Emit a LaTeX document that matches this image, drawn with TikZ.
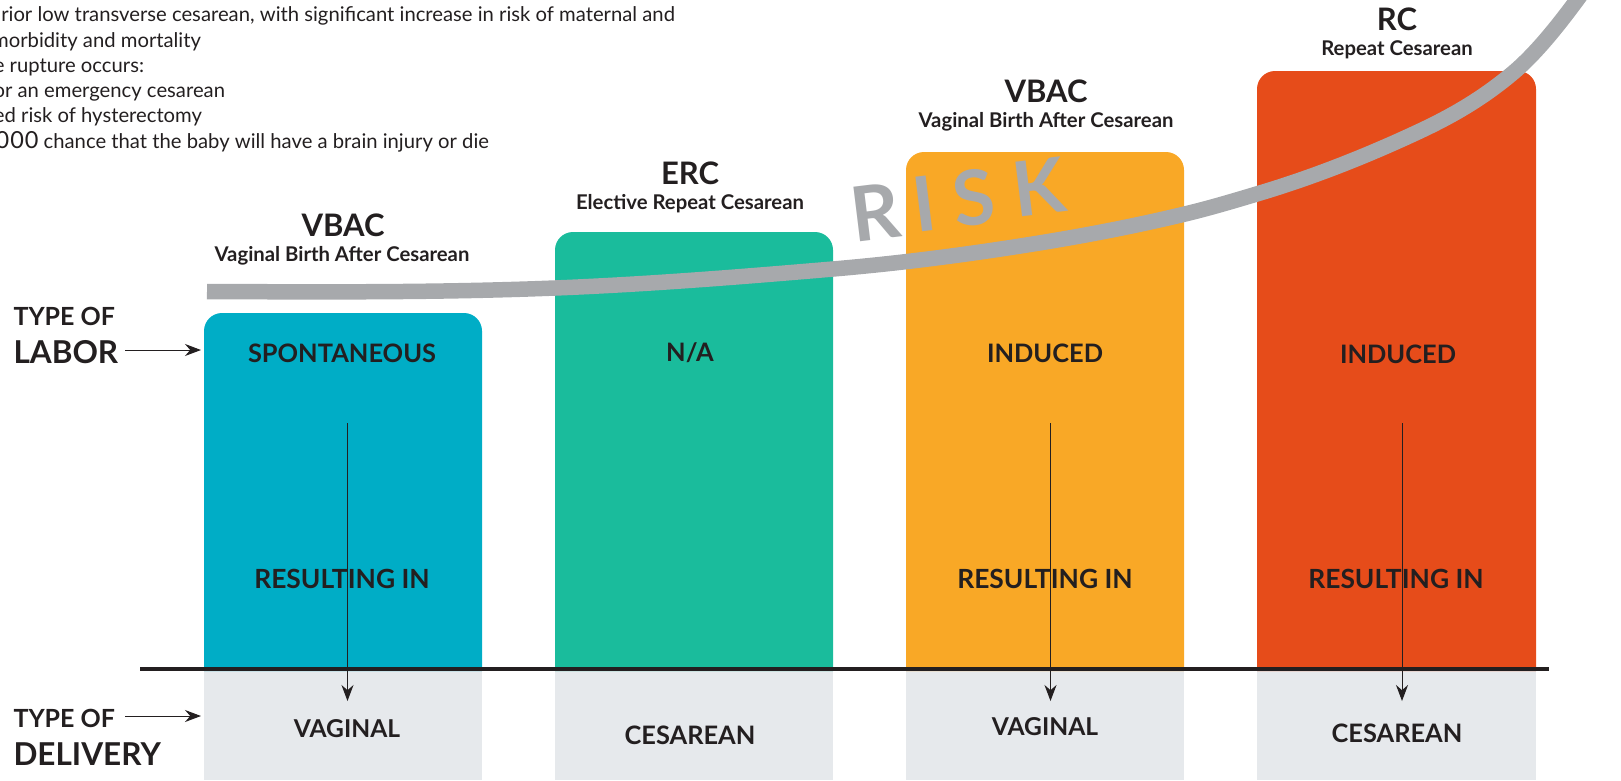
\documentclass[tikz,border=0pt]{standalone}
\usepackage{fontspec}
\setmainfont{Lato}
\usetikzlibrary{arrows.meta}
\definecolor{ink}{HTML}{231F20}
\definecolor{cblue}{HTML}{00ADC6}
\definecolor{cgreen}{HTML}{1ABC9C}
\definecolor{corange}{HTML}{F9A826}
\definecolor{cred}{HTML}{E64C1A}
\definecolor{cgrey}{HTML}{A7A9AC}
\definecolor{cpale}{HTML}{E6E9EC}
\tikzset{
  x=1pt,y=-1pt,
  every node/.style={inner sep=0pt,outer sep=0pt,text=ink},
  title/.style={anchor=center,font=\fontsize{31}{31}\selectfont\bfseries},
  subtitle/.style={anchor=center,font=\fontsize{20.3}{20}\selectfont\bfseries},
  inbox/.style={anchor=center,font=\fontsize{25.4}{25}\selectfont\bfseries},
  result/.style={anchor=center,font=\fontsize{26.4}{25}\selectfont\bfseries},
  deliv/.style={anchor=center,font=\fontsize{24.6}{25}\selectfont\bfseries},
  side/.style={anchor=base west,font=\fontsize{25}{25}\selectfont\bfseries},
  sidebig/.style={anchor=base west,font=\fontsize{31.5}{32}\selectfont\bfseries},
  note/.style={anchor=base east,font=\fontsize{20.25}{20}\selectfont},
  risk/.style={anchor=center,text=cgrey,font=\fontsize{76}{76}\selectfont\bfseries},
  barbox/.style={rounded corners=18pt},
  thin arrow/.style={draw=ink,line width=1pt,-{Stealth[length=16pt,width=12pt]}},
}
\begin{document}
\begin{tikzpicture}
\useasboundingbox (0,0) rectangle (1621,780);
% bars
\fill[cpale] (204,671) rectangle (482,780);
\fill[cpale] (555,671) rectangle (833,780);
\fill[cpale] (906,671) rectangle (1184,780);
\fill[cpale] (1257,671) rectangle (1536,780);
\fill[cblue,barbox] (204,671) -- (204,313) -- (482,313) -- (482,671);
\fill[cgreen,barbox] (555,671) -- (555,232) -- (833,232) -- (833,671);
\fill[corange,barbox] (906,671) -- (906,152) -- (1184,152) -- (1184,671);
\fill[cred,barbox] (1257,671) -- (1257,71) -- (1536,71) -- (1536,671);
% RISK
\node[risk,rotate=7] (riskR) at (875,212) {R};
\node[risk,rotate=7] (riskI) at (924,204) {I};
\node[risk,rotate=7] (riskS) at (974,198) {S};
\node[risk,rotate=7] (riskK) at (1038.5,187) {K};
% curve
\draw[cgrey,line width=15.5pt,line cap=butt] (207,291.5)
  .. controls (323,292) and (439,292.6) .. (555,288)
  .. controls (647.7,284.3) and (740.3,276.9) .. (833,269)
  .. controls (899.7,263.3) and (966.3,254.7) .. (1033,244)
  .. controls (1083.7,235.9) and (1134.3,226.2) .. (1185,214)
  .. controls (1210,208) and (1235,200.5) .. (1260,193)
  .. controls (1313.3,177) and (1366.7,156) .. (1420,131)
  .. controls (1451.3,116.3) and (1482.7,98.6) .. (1514,72)
  .. controls (1535,54.1) and (1556,28.4) .. (1577,0)
  .. controls (1588,-14.9) and (1599,-35) .. (1610,-50);
% divider
\draw[ink,line width=4pt] (140,669) -- (1549,669);
% notes
\node[note] (n1) at (675,21.5) {rior low transverse cesarean, with significant increase in risk of maternal and};
\node[note] (n2) at (201,47.5) {morbidity and mortality};
\node[note] (n3) at (144,72.5) {e rupture occurs:};
\node[note] (n4) at (225,97.5) {or an emergency cesarean};
\node[note] (n5) at (202,122.5) {ed risk of hysterectomy};
\node[note] (n6) at (489,148.5) {{\fontsize{23.5}{20}\selectfont\addfontfeature{LetterSpace=4}000} chance that the baby will have a brain injury or die};
% headers
\node[title] (t1) at (343,225) {VBAC};
\node[subtitle] (s1) at (342,256) {Vaginal Birth After Cesarean};
\node[title] (t2) at (690,173) {ERC};
\node[subtitle] (s2) at (690,204) {Elective Repeat Cesarean};
\node[title] (t3) at (1046,91) {VBAC};
\node[subtitle] (s3) at (1046,122) {Vaginal Birth After Cesarean};
\node[title] (t4) at (1397,19) {RC};
\node[subtitle] (s4) at (1397,49.5) {Repeat Cesarean};
% in bars
\node[inbox] (l1) at (342,353) {SPONTANEOUS};
\node[inbox] (l2) at (690,353) {N/A};
\node[inbox] (l3) at (1045,353) {INDUCED};
\node[inbox] (l4) at (1398,354) {INDUCED};
\node[result] (r1) at (342,579) {RESULTING IN};
\node[result] (r3) at (1045,579) {RESULTING IN};
\node[result] (r4) at (1396,579) {RESULTING IN};
\node[deliv] (d1) at (347,729) {VAGINAL};
\node[inbox] (d2) at (690,735) {CESAREAN};
\node[deliv] (d3) at (1045,727) {VAGINAL};
\node[inbox] (d4) at (1397,733) {CESAREAN};
% side labels
\node[side] (tl) at (13.5,325) {TYPE OF};
\node[sidebig] (ll) at (13.5,363) {LABOR};
\node[side] (td) at (13.5,727) {TYPE OF};
\node[sidebig] (dl) at (13.5,765) {DELIVERY};
% arrows
\coordinate (a1s) at (125,350); \coordinate (a1e) at (201,350);
\coordinate (a2s) at (125,716); \coordinate (a2e) at (201,716);
\coordinate (v1s) at (347.5,423); \coordinate (v1e) at (347.5,701);
\coordinate (v3s) at (1050.5,423); \coordinate (v3e) at (1050.5,701);
\coordinate (v4s) at (1402,423); \coordinate (v4e) at (1402,701);
\draw[thin arrow] (a1s) -- (a1e);
\draw[thin arrow] (a2s) -- (a2e);
\draw[thin arrow] (v1s) -- (v1e);
\draw[thin arrow] (v3s) -- (v3e);
\draw[thin arrow] (v4s) -- (v4e);
\end{tikzpicture}
\end{document}
